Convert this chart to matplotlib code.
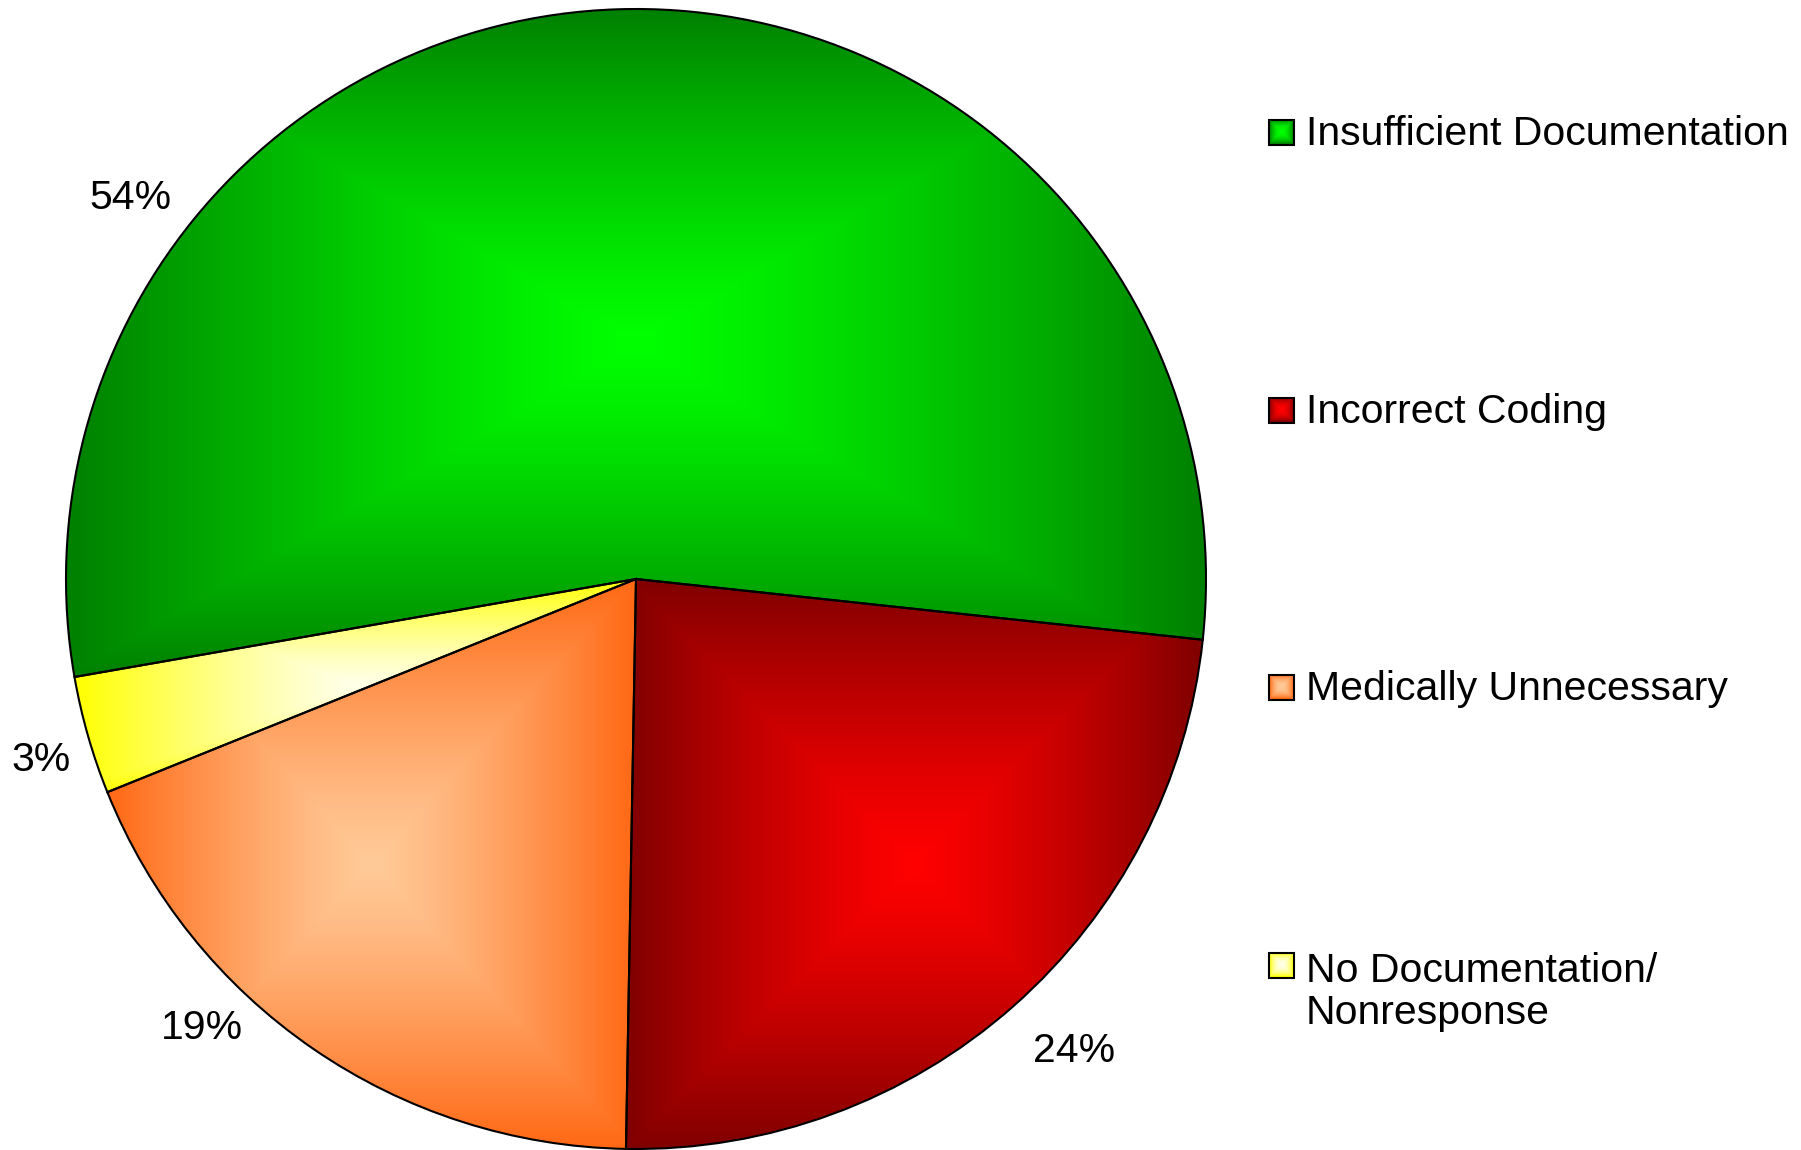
import numpy as np
import matplotlib
matplotlib.use("Agg")
import matplotlib.pyplot as plt
from matplotlib.patches import Rectangle

# ---- data ----
categories = ["Insufficient Documentation", "Incorrect Coding",
              "Medically Unnecessary", "No Documentation/\nNonresponse"]
values = [54.45, 23.58, 18.62, 3.35]
pct_labels = ["54%", "24%", "19%", "3%"]

# ---- style ----
edge_cols = [(0, 128, 0), (128, 0, 0), (255, 104, 20), (255, 255, 0)]
center_cols = [(0, 255, 0), (255, 0, 0), (255, 202, 152), (255, 255, 232)]
label_angle = [143.0, -47.1, -134.0, 196.9]   # label placement (deg)
label_rfac = [1.11, 1.13, 1.095, 1.09]

W, H = 1801, 1150
plt.rcParams['font.family'] = ['Liberation Sans', 'DejaVu Sans']
fig = plt.figure(figsize=(W / 100, H / 100), dpi=100)
ax = fig.add_axes([0, 0, 1, 1])

cx, cy, R = 636, H - 579, 570


def grad_img(c_in, c_out, n=300, gamma=1.25):
    u = np.linspace(-1, 1, n)
    U, V = np.meshgrid(u, u)
    t = (np.maximum(np.abs(U), np.abs(V)) ** gamma)[..., None]
    ci = np.array(c_in, float) / 255
    co = np.array(c_out, float) / 255
    return ci + (co - ci) * t


wedges, _ = ax.pie(values, startangle=189.9, counterclock=False,
                   center=(cx, cy), radius=R, frame=True,
                   wedgeprops=dict(edgecolor='black', linewidth=1.5))
ax.set_aspect('equal')
ax.axis('off')

for w, ci, co in zip(wedges, center_cols, edge_cols):
    ext = w.get_path().get_extents()
    img = grad_img(ci, co)
    im = ax.imshow(img, extent=(ext.x0, ext.x1, ext.y0, ext.y1),
                   origin='lower', interpolation='bilinear', zorder=1)
    im.set_clip_path(w)
    w.set_facecolor('none')
    w.set_zorder(2)

# percentage labels
for lab, a, f in zip(pct_labels, label_angle, label_rfac):
    x = cx + R * f * np.cos(np.radians(a))
    y = cy + R * f * np.sin(np.radians(a))
    ax.text(x, y, lab, fontsize=29.5, ha='center', va='center', color='black')

# legend (manual)
leg_y = [132, 410, 687, 965]
pitch = 46
for cat, yy, ci, co in zip(categories, leg_y, center_cols, edge_cols):
    yd = H - yy
    s = 25
    x0 = 1269
    ax.imshow(grad_img(ci, co, 40, gamma=2.0),
              extent=(x0, x0 + s, yd - s / 2, yd + s / 2),
              origin='lower', interpolation='bilinear', zorder=3)
    ax.add_patch(Rectangle((x0, yd - s / 2), s, s, facecolor='none',
                           edgecolor='black', linewidth=1.5, zorder=4))
    nl = cat.count('\n')
    ax.text(1306, yd - 13 - nl * pitch, cat, fontsize=29.5, ha='left',
            va='baseline', linespacing=1.13, color='black')

ax.set_xlim(0, W)
ax.set_ylim(0, H)
fig.savefig("out.png", dpi=100)
